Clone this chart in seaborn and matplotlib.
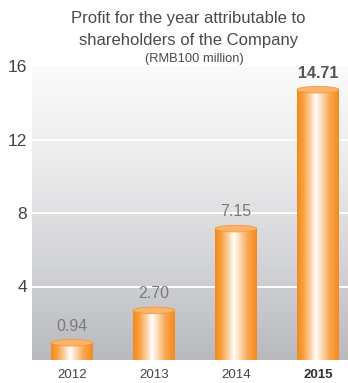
import numpy as np
import matplotlib
matplotlib.use("Agg")
import matplotlib.pyplot as plt
from matplotlib.colors import LinearSegmentedColormap
from matplotlib.patches import Ellipse
import seaborn as sns

# Data
years = ["2012", "2013", "2014", "2015"]
profits = [0.94, 2.70, 7.15, 14.71]
value_labels = ["0.94", "2.70", "7.15", "14.71"]
y_ticks = [4, 8, 12, 16]

sns.set_theme(style="white")
plt.rcParams["font.family"] = ["Liberation Sans", "DejaVu Sans"]

fig = plt.figure(figsize=(3.48, 3.83), dpi=100)
ax = fig.add_axes([32 / 348, 23 / 383, 316 / 348, 294 / 383])

bar_w = 0.512
sns.barplot(x=years, y=profits, width=bar_w, ax=ax, color="#f7941d",
            saturation=1, errorbar=None, zorder=3)

ax.set_xlim(-0.488, 3.366)
ax.set_ylim(0, 16)

# Panel background: light grey at the bottom fading to white at the top
bg_cmap = LinearSegmentedColormap.from_list(
    "panel", ["#b9babe", "#d3d4d7", "#ebebec", "#fbfbfb"])
grad = np.linspace(0, 1, 256).reshape(-1, 1)
ax.imshow(grad, cmap=bg_cmap, aspect="auto", origin="lower",
          extent=(-0.488, 3.366, 0, 16), zorder=0)
for yv in y_ticks[:-1]:
    ax.axhline(yv, color="white", lw=1.4, zorder=1)

# Cylinder shading: dark orange edges, bright highlight left of centre
body_cmap = LinearSegmentedColormap.from_list("body", [
    (0.0, "#f5891a"), (0.15, "#f8a040"), (0.33, "#fcd3a6"),
    (0.45, "#ffffff"), (0.56, "#fde2c6"), (0.78, "#f9a650"),
    (1.0, "#f5891a")])
hgrad = np.linspace(0, 1, 256).reshape(1, -1)
ell_h = 0.36

for patch, val in zip(list(ax.patches), profits):
    x0 = patch.get_x()
    w = patch.get_width()
    xc = x0 + w / 2
    patch.set_facecolor("none")
    patch.set_edgecolor("none")
    body = ax.imshow(hgrad, cmap=body_cmap, aspect="auto",
                     extent=(x0, x0 + w, -ell_h, val), zorder=3)
    body.set_clip_path(patch)
    # rounded base
    base = Ellipse((xc, 0), w, ell_h, facecolor="none", edgecolor="none",
                   zorder=3, clip_on=False)
    ax.add_patch(base)
    base_img = ax.imshow(hgrad, cmap=body_cmap, aspect="auto",
                         extent=(x0, x0 + w, -ell_h, ell_h), zorder=3.1)
    base_img.set_clip_path(base)
    base_img.set_clip_on(True)
    # top cap
    cap = Ellipse((xc, val), w, ell_h, facecolor="#f9b36b",
                  edgecolor="#f49a3c", lw=0.6, zorder=4)
    ax.add_patch(cap)

# Value labels above each cylinder
for i, (val, lab) in enumerate(zip(profits, value_labels)):
    last = i == len(profits) - 1
    ax.annotate(lab, (i, val), xytext=(0, 12), textcoords="offset points",
                ha="center", va="center", fontsize=11.5,
                color="#555555" if last else "#7a7a7a",
                fontweight="bold" if last else "normal", zorder=5,
                annotation_clip=False)

ax.set_yticks(y_ticks)
ax.set_yticklabels([str(t) for t in y_ticks])
ax.tick_params(axis="y", length=0, pad=3.6, labelsize=12.5, labelcolor="#444444")
ax.tick_params(axis="x", length=0, pad=6.5, labelsize=9.5, labelcolor="#444444")
for lbl in ax.get_xticklabels():
    if lbl.get_text() == years[-1]:
        lbl.set_fontweight("bold")
        lbl.set_color("#333333")
ax.set_xlabel("")
ax.set_ylabel("")
for s in ax.spines.values():
    s.set_visible(False)
ax.grid(False)

fig.text(0.542, 1 - 18 / 383, "Profit for the year attributable to",
         ha="center", va="center", fontsize=12, color="#4a4a4a")
fig.text(0.542, 1 - 40 / 383, "shareholders of the Company",
         ha="center", va="center", fontsize=12, color="#4a4a4a")
fig.text(0.558, 1 - 59 / 383, "(RMB100 million)",
         ha="center", va="center", fontsize=9.3, color="#4a4a4a")

fig.savefig("out.png", dpi=100)
